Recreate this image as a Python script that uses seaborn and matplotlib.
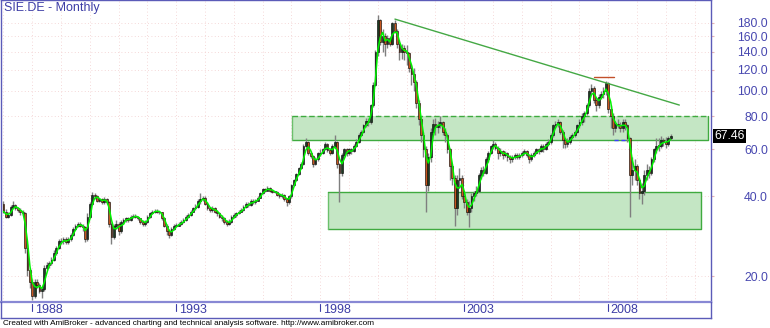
import numpy as np
import pandas as pd
import matplotlib
matplotlib.use("Agg")
import matplotlib.pyplot as plt
import matplotlib.transforms as mtransforms
from matplotlib.ticker import NullLocator
from matplotlib.patches import Rectangle
import seaborn as sns

sns.set_style("white")
plt.rcParams["font.family"] = ["Liberation Sans", "DejaVu Sans"]

# ---------------- data (monthly, Jan 1987 .. Mar 2010) ----------------
title = "SIE.DE - Monthly"
first_open = 37.5
close = [
    35.0, 33.5, 34.0, 36.5, 37.0, 36.0, 35.5, 34.8, 34.5, 25.5, 21.0, 19.0,  # 1987
    16.8, 19.0, 18.5, 17.5, 17.8, 21.5, 22.0, 22.3, 23.0, 24.5, 25.5, 27.0,  # 1988
    27.0, 27.5, 26.8, 27.5, 28.5, 30.0, 31.0, 31.5, 31.0, 30.5, 27.5, 33.5,  # 1989
    37.5, 40.5, 40.0, 38.5, 39.0, 38.0, 39.0, 38.0, 31.5, 28.0, 31.0, 31.5,  # 1990
    29.5, 32.0, 32.5, 33.0, 32.5, 33.5, 33.8, 33.5, 33.0, 32.0, 31.5, 32.0,  # 1991
    33.5, 34.5, 35.0, 35.3, 35.0, 34.8, 33.0, 31.0, 29.5, 28.5, 30.0, 31.0,  # 1992
    31.0, 31.5, 32.0, 32.5, 33.5, 34.0, 35.0, 36.0, 36.5, 38.5, 39.0, 39.5,  # 1993
    37.5, 36.0, 35.5, 36.0, 35.0, 34.5, 33.5, 33.0, 32.0, 31.5, 32.0, 33.5,  # 1994
    34.0, 34.5, 35.0, 35.5, 36.5, 37.5, 37.0, 38.5, 38.0, 38.5, 39.5, 41.0,  # 1995
    42.5, 42.0, 43.0, 42.0, 41.5, 41.5, 40.5, 40.0, 40.5, 39.0, 38.0, 40.0,  # 1996
    44.0, 46.0, 48.5, 51.0, 53.0, 62.0, 64.0, 58.0, 56.5, 53.0, 55.0, 58.0,  # 1997
    58.0, 60.0, 63.0, 59.5, 58.0, 62.0, 64.0, 53.0, 49.0, 57.0, 60.0, 58.0,  # 1998
    60.0, 59.0, 62.0, 64.0, 68.0, 70.0, 74.0, 77.0, 76.0, 88.0, 105.0, 140.0,  # 1999
    185.0, 152.0, 160.0, 150.0, 158.0, 150.0, 180.0, 168.0, 150.0, 140.0, 145.0, 140.0,  # 2000
    138.0, 122.0, 115.0, 108.0, 90.0, 78.0, 68.0, 60.0, 44.0, 56.0, 70.0, 75.0,  # 2001
    73.0, 74.0, 76.0, 70.0, 68.0, 60.0, 52.0, 47.0, 36.0, 46.0, 47.0, 40.0,  # 2002
    38.0, 35.0, 36.0, 40.0, 41.0, 42.0, 48.0, 50.0, 49.0, 55.0, 58.0, 62.0,  # 2003
    63.0, 61.0, 58.0, 59.0, 57.0, 58.0, 56.0, 55.0, 56.0, 57.0, 56.0, 57.0,  # 2004
    58.0, 59.0, 57.0, 55.0, 57.0, 58.0, 60.0, 59.0, 62.0, 60.0, 63.0, 64.0,  # 2005
    68.0, 74.0, 75.0, 76.0, 70.0, 65.0, 63.0, 64.0, 67.0, 68.0, 70.0, 74.0,  # 2006
    76.0, 80.0, 82.0, 88.0, 100.0, 102.0, 92.0, 88.0, 95.0, 97.0, 100.0, 107.0,  # 2007
    85.0, 80.0, 72.0, 75.0, 74.0, 72.0, 76.0, 74.0, 66.0, 48.0, 50.0, 52.0,  # 2008
    46.0, 41.0, 42.0, 48.0, 50.0, 49.0, 55.0, 60.0, 62.0, 62.0, 65.0, 64.0,  # 2009
    63.0, 66.0, 67.46,  # 2010
]
high = [
    38.5, 35.8, 34.8, 37.0, 38.5, 37.5, 36.5, 36.0, 35.5, 35.0, 26.5, 21.5,
    19.5, 19.5, 19.5, 18.8, 18.2, 22.0, 22.5, 22.8, 23.5, 25.0, 26.0, 27.5,
    27.8, 28.0, 28.0, 28.0, 29.0, 30.5, 31.5, 32.0, 32.0, 31.5, 31.0, 34.5,
    38.0, 41.5, 41.0, 40.5, 39.5, 39.5, 39.8, 39.5, 38.5, 32.0, 31.5, 32.5,
    32.0, 32.5, 33.0, 33.5, 33.5, 34.0, 34.2, 34.2, 33.8, 33.2, 32.5, 32.5,
    34.0, 35.0, 35.5, 35.8, 35.8, 35.3, 35.0, 33.5, 31.5, 30.0, 30.5, 31.5,
    31.8, 32.0, 32.5, 33.0, 34.0, 34.5, 35.5, 36.5, 37.5, 39.0, 41.0, 40.0,
    40.0, 38.0, 36.5, 36.8, 36.5, 35.5, 35.0, 34.0, 33.5, 32.5, 32.8, 34.0,
    34.5, 35.0, 35.5, 36.0, 37.0, 38.0, 38.0, 39.0, 39.0, 39.0, 40.0, 41.5,
    43.0, 43.0, 43.5, 43.2, 42.5, 42.0, 41.8, 41.0, 41.0, 40.8, 39.5, 40.5,
    44.5, 46.5, 49.0, 51.5, 54.0, 63.0, 66.5, 64.5, 59.0, 57.0, 56.0, 58.5,
    60.0, 61.0, 64.0, 63.5, 60.5, 63.0, 68.0, 64.5, 53.5, 58.0, 61.0, 60.5,
    61.0, 61.0, 63.0, 65.5, 69.0, 71.0, 75.0, 78.5, 79.0, 89.0, 108.0, 142.0,
    192.0, 186.0, 170.0, 165.0, 162.0, 160.0, 182.0, 184.0, 170.0, 155.0, 150.0, 148.0,
    148.0, 140.0, 125.0, 122.0, 110.0, 92.0, 80.0, 70.0, 62.0, 58.0, 72.0, 78.0,
    79.0, 77.0, 80.0, 77.0, 72.0, 69.0, 61.0, 53.0, 48.0, 48.0, 51.0, 48.0,
    42.0, 39.0, 38.5, 41.0, 42.0, 43.5, 49.0, 51.5, 52.0, 56.0, 59.0, 62.5,
    65.0, 64.0, 62.0, 60.5, 59.5, 59.0, 58.5, 57.0, 57.0, 58.0, 58.0, 58.0,
    59.0, 60.0, 59.5, 57.5, 58.0, 59.0, 61.0, 61.0, 63.0, 63.0, 64.0, 65.5,
    69.0, 75.0, 77.0, 78.0, 77.0, 71.0, 66.0, 66.0, 68.0, 69.5, 71.0, 75.0,
    78.0, 82.0, 83.5, 90.0, 102.0, 106.0, 104.0, 94.0, 97.0, 100.0, 103.0, 109.0,
    108.0, 88.0, 82.0, 77.0, 78.0, 76.0, 78.0, 78.0, 75.0, 67.0, 56.0, 55.0,
    53.0, 47.0, 45.0, 50.0, 53.0, 52.0, 56.0, 61.0, 66.0, 66.0, 67.5, 66.5,
    67.0, 67.5, 68.5,
]
low = [
    34.5, 33.0, 33.0, 33.8, 36.0, 35.5, 35.0, 34.0, 34.0, 24.5, 20.0, 18.0,
    16.2, 16.5, 18.0, 17.2, 16.5, 17.5, 21.0, 21.5, 22.0, 22.8, 24.0, 25.2,
    26.5, 26.5, 26.5, 26.5, 27.2, 28.2, 29.8, 30.5, 30.5, 29.5, 26.8, 27.2,
    33.0, 37.0, 39.0, 38.0, 38.0, 37.5, 37.5, 37.5, 30.5, 26.5, 27.5, 30.0,
    28.5, 29.0, 31.5, 32.0, 32.0, 32.2, 33.0, 33.0, 32.5, 31.5, 30.8, 31.0,
    31.8, 33.2, 34.2, 34.6, 34.5, 34.2, 32.5, 30.5, 28.5, 27.8, 28.3, 29.8,
    30.5, 30.8, 31.2, 31.8, 32.3, 33.2, 33.8, 34.8, 35.5, 36.2, 37.5, 38.3,
    37.0, 35.5, 34.8, 35.0, 34.5, 33.8, 33.0, 32.2, 31.5, 30.8, 31.2, 31.8,
    33.0, 33.5, 34.2, 34.8, 35.2, 36.2, 36.5, 36.8, 37.5, 37.5, 38.2, 39.2,
    40.8, 41.5, 41.8, 41.5, 41.0, 41.0, 40.0, 39.5, 39.5, 38.5, 36.8, 37.5,
    39.5, 43.5, 45.5, 48.0, 50.5, 52.5, 60.5, 57.0, 55.5, 51.5, 52.5, 54.5,
    56.5, 57.5, 59.5, 58.5, 57.0, 57.5, 61.0, 51.0, 38.0, 47.5, 56.0, 56.5,
    57.0, 57.5, 58.5, 61.5, 63.5, 67.5, 69.0, 73.0, 73.5, 75.0, 87.0, 104.0,
    135.0, 148.0, 140.0, 135.0, 145.0, 147.0, 148.0, 165.0, 145.0, 130.0, 132.0, 130.0,
    125.0, 118.0, 105.0, 100.0, 86.0, 74.0, 64.0, 56.0, 35.0, 42.0, 54.0, 68.0,
    68.0, 69.0, 72.0, 68.0, 64.0, 58.0, 46.0, 44.0, 31.0, 34.0, 43.0, 39.0,
    36.0, 34.0, 30.5, 35.0, 38.5, 40.0, 41.5, 46.5, 47.5, 48.5, 54.0, 57.5,
    60.0, 59.5, 55.0, 56.5, 55.0, 56.0, 54.5, 53.5, 54.0, 55.0, 55.0, 55.0,
    56.0, 57.0, 56.0, 53.5, 54.5, 56.0, 57.5, 57.5, 58.5, 58.5, 59.5, 62.0,
    63.0, 67.0, 72.0, 73.0, 68.5, 61.0, 61.0, 61.5, 63.0, 65.5, 67.0, 69.0,
    72.0, 74.0, 76.0, 81.0, 87.0, 96.0, 90.0, 84.0, 86.0, 93.0, 94.0, 96.0,
    82.0, 72.0, 68.0, 70.0, 72.0, 70.0, 70.0, 71.0, 64.0, 33.5, 44.0, 46.0,
    44.0, 39.0, 37.5, 40.5, 46.0, 47.0, 48.0, 54.0, 58.0, 59.0, 61.0, 62.0,
    61.0, 62.0, 65.0,
]
year_labels = ["1988", "1993", "1998", "2003", "2008"]
year_pos = [12, 72, 132, 192, 252]          # bar index of January
price_ticks = [20.0, 40.0, 60.0, 80.0, 100.0, 120.0, 140.0, 160.0, 180.0]
upper_zone = [120.1, 293.4, 65.0, 80.0]     # x0, x1, y0, y1
lower_zone = [135.2, 290.5, 30.2, 41.5]
trend_x = [163.1, 281.6]
trend_y = [186.0, 88.2]
top_mark_x = [246.0, 254.4]
top_mark_y = [112.2, 112.2]
base_mark_x = [254.4, 260.2]
base_mark_y = [65.0, 65.0]
footer = "Created with AmiBroker - advanced charting and technical analysis software. http://www.amibroker.com"

df = pd.DataFrame({"bar": np.arange(len(close)), "close": close, "high": high, "low": low})
df["open"] = df["close"].shift(1).fillna(first_open)
df["ma"] = df["close"].rolling(3, min_periods=1).mean()
up = df[df["close"] >= df["open"]]
dn = df[df["close"] < df["open"]]

W, H = 770, 328
fig = plt.figure(figsize=(W / 100, H / 100), dpi=100)
fig.patch.set_facecolor("white")

ax = fig.add_axes([1 / W, 26 / H, 710 / W, 302 / H])
ax.set_yscale("log")
ax.set_xlim((1 - 3.5) / 2.4, (711 - 3.5) / 2.4)
ax.set_ylim(20 * np.exp(-26 / 115.2), 20 * np.exp(276 / 115.2))

frame = "#5b5bb8"
for s in ax.spines.values():
    s.set_color(frame)
    s.set_linewidth(1.0)
ax.spines["bottom"].set_color("#8888d4")
ax.spines["bottom"].set_linewidth(1.6)

# grid
for v in price_ticks:
    ax.axhline(v, color="#f2cccc", lw=0.6, ls=(0, (1, 3)), zorder=0)
for j in range(0, 300, 12):
    ax.axvline(j, color="#f2cccc", lw=0.6, ls=(0, (1, 3)), zorder=0)

# zones
for (x0, x1, y0, y1), dashed_top in [(upper_zone, True), (lower_zone, False)]:
    ax.add_patch(Rectangle((x0, y0), x1 - x0, y1 - y0, facecolor="#c4e6c4",
                           edgecolor="none", zorder=1))
    ax.plot([x0, x1, x1], [y0, y0, y1], color="#3faa3f", lw=1.0, zorder=1.5)
    ax.plot([x0, x0], [y0, y1], color="#6cc06c", lw=1.0, zorder=1.5)
    ax.plot([x0, x1], [y1, y1], color="#3faa3f", lw=1.0, zorder=1.5,
            ls=(0, (4, 2)) if dashed_top else "-")

# candles
ax.vlines(df["bar"], df["low"], df["high"], color="#7f7f7f", lw=1.0, zorder=2)
ax.bar(up["bar"], (up["close"] - up["open"]).clip(lower=0.15), bottom=up["open"],
       width=0.8, color="#1d3b22", edgecolor="#000000", linewidth=0.4, zorder=3)
ax.bar(dn["bar"], dn["open"] - dn["close"], bottom=dn["close"],
       width=0.8, color="#c6571f", edgecolor="#000000", linewidth=0.4, zorder=3)

# moving average
sns.lineplot(x=df["bar"], y=df["ma"], ax=ax, color="#00f400", lw=1.1, zorder=4,
             legend=False)

# trendline and marks
ax.plot(trend_x, trend_y, color="#44a844", lw=1.0, zorder=4)
ax.plot(top_mark_x, top_mark_y, color="#c2502a", lw=1.0, zorder=4)
ax.plot(base_mark_x, base_mark_y, color="#3c3cff", lw=1.0, ls=(0, (3, 2)), zorder=4)

ax.set_xlabel("")
ax.set_ylabel("")
ax.set_xticks([])
ax.yaxis.tick_right()
ax.yaxis.set_minor_locator(NullLocator())
ax.set_yticks(price_ticks)
ax.set_yticklabels([f"{v:.1f}" for v in price_ticks])
ax.tick_params(axis="y", direction="out", length=2, width=0.8, color="#e6b4b4",
               labelcolor="#4848b0", labelsize=8.8, pad=39)
for lbl in ax.get_yticklabels():
    lbl.set_horizontalalignment("right")

# last price box
trans = mtransforms.blended_transform_factory(ax.transAxes, ax.transData)
ax.text(1 + 3.4 / 710, close[-1], f"{close[-1]:.2f}", transform=trans, ha="left",
        va="center", color="white", fontsize=8.8, clip_on=False,
        bbox=dict(facecolor="black", edgecolor="none", pad=1.0), zorder=6)

# title
ax.text(3 / 710, 1 - 2 / 302, title, transform=ax.transAxes, ha="left", va="top",
        fontsize=9, color="#3d3da6", zorder=6)

# date strip
sx = fig.add_axes([1 / W, 10 / H, 710 / W, 16 / H])
sx.set_xlim(ax.get_xlim())
sx.set_ylim(0, 1)
sx.set_xticks([])
sx.set_yticks([])
sx.patch.set_alpha(0)
for k, s in sx.spines.items():
    s.set_color(frame)
    s.set_linewidth(1.0)
sx.spines["top"].set_visible(False)
for p, lab in zip(year_pos, year_labels):
    sx.plot([p, p], [0.42, 0.88], color="#3d3da6", lw=0.8)
    sx.text(p + 1.0, 0.48, lab, ha="left", va="center", fontsize=9, color="#3d3da6")

fig.text(3 / W, 1 - 323.5 / H, footer, ha="left", va="center", fontsize=5.9,
         color="black")

fig.savefig("out.png", dpi=100)
